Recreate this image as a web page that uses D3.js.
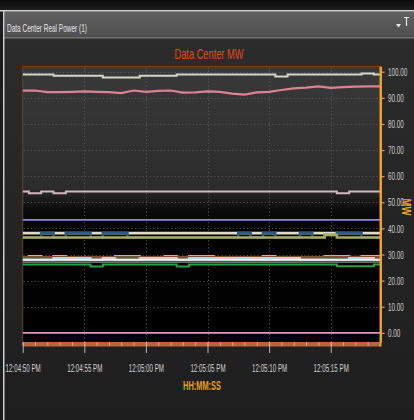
<!DOCTYPE html>
<html><head><meta charset="utf-8">
<script src="https://cdn.jsdelivr.net/npm/d3@7/dist/d3.min.js"></script>
<style>body{margin:0;background:#1e1e1e;overflow:hidden}svg{display:block}</style>
</head><body>
<svg id="c" width="414" height="420"></svg>
<script>
// ---- data (seconds after 12:04:50 PM, one sample per second) ----
const sampleSeconds = [0,1,2,3,4,5,6,7,8,9,10,11,12,13,14,15,16,17,18,19,20,21,22,23,24,25,26,27,28,29];
const xTickSeconds = [0,5,10,15,20,25];
const xTickLabels = ["12:04:50 PM","12:04:55 PM","12:05:00 PM","12:05:05 PM","12:05:10 PM","12:05:15 PM"];
const yTicks = [0,10,20,30,40,50,60,70,80,90,100];

const feedA = [98.9,98.9,98.9,98.5,98.5,98.5,98.5,97.8,97.8,97.8,98.5,98.5,98.5,98.9,98.9,98.9,98.9,98.9,98.9,98.9,98.9,98.2,98.9,98.9,98.9,98.9,98.9,98.9,99.3,98.9];
const feedB = [92.8,92.8,92.2,92.2,92.3,92.5,92.3,92.2,91.8,92.8,92.3,92.7,92.8,92.0,92.1,92.5,92.3,91.6,91.2,92.1,92.3,93.0,93.6,93.9,94.4,93.8,94.1,94.3,94.4,94.4];
const feedC = [54.1,53.5,54.1,53.5,54.1,54.1,54.1,54.1,54.1,54.1,54.1,54.1,54.1,54.1,54.1,54.1,54.1,54.1,54.1,54.1,54.1,54.1,54.1,54.1,54.1,54.1,53.5,54.1,54.1,54.1];
const feedD = [43.3,43.3,43.3,43.3,43.3,43.3,43.3,43.3,43.3,43.3,43.3,43.3,43.3,43.3,43.3,43.3,43.3,43.3,43.3,43.3,43.3,43.3,43.3,43.3,43.3,43.3,43.3,43.3,43.3,43.3];
const feedE = [38.2,38.2,38.2,38.2,38.2,38.2,38.2,38.2,38.2,38.2,38.2,38.2,38.2,38.2,38.2,38.2,38.2,38.2,38.2,38.2,38.2,38.2,38.2,38.2,38.2,38.2,38.2,38.2,38.2,38.2];
const feedF = [36.5,36.5,38.2,36.5,38.2,38.2,36.5,38.2,38.2,36.5,36.5,36.5,36.5,36.5,36.5,36.5,36.5,36.5,38.2,36.5,38.2,36.5,36.5,38.2,36.5,37.5,38.2,38.2,36.5,36.5];
const feedG = [36.5,36.5,36.5,36.5,36.5,36.5,36.5,36.5,36.5,36.5,36.5,36.5,36.5,36.5,36.5,36.5,36.5,36.5,36.5,36.5,36.5,36.5,36.5,36.5,36.5,37.5,36.5,36.5,36.5,36.5];
const feedH = [29.0,29.4,29.0,29.4,29.0,29.0,29.0,29.0,29.4,29.4,29.0,29.0,29.4,29.0,29.4,29.4,29.0,29.0,29.0,29.0,29.4,29.0,29.0,29.0,29.0,29.4,29.4,29.0,29.4,29.4];
const feedI = [29.0,29.0,29.0,29.0,29.0,29.0,29.0,29.0,29.0,29.0,29.0,29.0,29.0,29.0,29.0,29.0,29.0,29.0,29.0,29.0,29.0,29.0,29.0,29.0,29.0,29.0,29.0,29.0,29.0,29.0];
const feedJ = [28.0,28.0,28.0,28.0,28.6,28.0,28.0,28.6,28.0,28.0,28.6,28.6,28.6,28.0,28.0,28.0,28.6,28.6,28.0,28.6,28.0,28.6,28.6,28.0,28.0,28.0,28.0,28.0,28.6,28.0];
const feedK = [28.0,28.0,28.0,28.6,28.0,28.6,28.0,28.0,28.0,28.0,28.0,28.0,28.0,28.0,28.6,28.6,28.0,28.0,28.6,28.0,28.6,28.0,28.0,28.0,28.0,28.0,28.0,28.6,28.0,28.0];
const feedL = [28.0,28.0,28.0,28.0,28.0,28.0,28.0,28.0,28.0,28.0,28.0,28.0,28.0,28.0,28.0,28.0,28.0,28.0,28.0,28.0,28.0,28.0,28.0,28.0,28.0,28.0,28.0,28.0,28.0,28.0];
const feedM = [27.1,27.1,27.1,27.1,27.1,27.1,27.1,27.1,27.1,27.1,27.1,27.1,27.1,27.1,27.1,27.1,27.1,27.1,27.1,27.1,27.1,27.1,27.1,27.1,27.1,27.1,27.1,27.1,27.1,27.1];
const feedN = [26.2,26.2,26.2,26.2,26.2,26.2,25.4,26.2,26.2,26.2,26.2,26.2,26.2,25.4,26.2,26.2,26.2,26.2,26.2,26.2,26.2,26.2,26.2,26.2,26.2,26.2,25.5,25.5,25.5,26.2];
const feedO = [0,0,0,0,0,0,0,0,0,0,0,0,0,0,0,0,0,0,0,0,0,0,0,0,0,0,0,0,0,0];

// ---- drawing ----
const svg = d3.select("#c");
const defs = svg.append("defs");
function lg(id, stops, x2, y2){
  const g = defs.append("linearGradient").attr("id", id).attr("x1",0).attr("y1",0).attr("x2",x2||0).attr("y2",y2===undefined?1:y2);
  stops.forEach(s=>g.append("stop").attr("offset",s[0]).attr("stop-color",s[1]));
}
lg("topStrip", [[0,"#0a0a0a"],[1,"#1e1e1e"]]);
lg("header", [[0,"#626262"],[1,"#4e4e4e"]]);
lg("area", [[0,"#2c2c2c"],[0.5,"#242424"],[1,"#1e1e1e"]]);
lg("plot", [[0,"#393939"],[0.44,"#2c2c2c"],[0.52,"#0c0c0c"],[0.6,"#020202"],[1,"#000"]]);

const W = 414, H = 420;
svg.append("rect").attr("width",W).attr("height",H).attr("fill","#1c1c1c");
svg.append("rect").attr("width",W).attr("height",10).attr("fill","url(#topStrip)");
svg.append("rect").attr("x",5).attr("y",39).attr("width",W-5).attr("height",H-39).attr("fill","url(#area)");
svg.append("rect").attr("x",4.5).attr("y",11.5).attr("width",W-4.5).attr("height",26.5).attr("fill","url(#header)");
svg.append("rect").attr("x",0).attr("y",10).attr("width",W).attr("height",1.5).attr("fill","#d4d4d4");
svg.append("rect").attr("x",4.5).attr("y",37.5).attr("width",W).attr("height",1).attr("fill","#8c8c8c");
svg.append("rect").attr("x",3).attr("y",10).attr("width",1.5).attr("height",H-10).attr("fill","#cfcfcf");

const FONT = "'Liberation Sans', Arial, sans-serif";
function sText(x, y, txt, size, sx, color, weight, anchor, rot){
  const g = svg.append("g").attr("transform", `translate(${x},${y})` + (rot?` rotate(${rot})`:"") + ` scale(${sx},1)`);
  g.append("text").attr("font-family",FONT).attr("font-size",size).attr("font-weight",weight||"normal")
    .attr("fill",color).attr("text-anchor",anchor||"start").text(txt);
  return g;
}
sText(7, 32, "Data Center Real Power (1)", 11, 0.59, "#e6e6e6");
svg.append("path").attr("d","M396,24 L401,24 L398.5,27.5 Z").attr("fill","#e8e8e8");
svg.append("path").attr("d","M404,17.5 L409,17.5 M406.5,17.5 L406.5,26").attr("stroke","#e8e8e8").attr("stroke-width",1.2);

// scales
const t0 = new Date(2000,0,1,12,4,50);
const tAt = s => new Date(+t0 + s*1000);
const pl = 22.7, pr = 380, pt = 66.5, pb = 342;
const x = d3.scaleTime().domain([tAt(0), tAt(29)]).range([pl, pr]);
const y = d3.scaleLinear().domain([-3.5, 102]).range([pb, pt]);

svg.append("rect").attr("x",pl).attr("y",pt).attr("width",pr-pl).attr("height",pb-pt).attr("fill","url(#plot)");
svg.append("path").attr("d",`M${pl},${pb} L${pl},${pt} L${pr},${pt}`).attr("fill","none").attr("stroke","#6a4426").attr("stroke-width",1);

defs.append("clipPath").attr("id","clip").append("rect").attr("x",pl).attr("y",pt).attr("width",pr-pl).attr("height",pb-pt);

// grid
const grid = svg.append("g").attr("stroke","#5c5c5c").attr("stroke-width",1).attr("stroke-dasharray","1,2.6");
yTicks.filter(v=>v>0).forEach(v=>{
  grid.append("line").attr("x1",pl+1).attr("x2",pr).attr("y1",Math.round(y(v))+0.5).attr("y2",Math.round(y(v))+0.5);
});
xTickSeconds.filter(s=>s>0).forEach(s=>{
  grid.append("line").attr("x1",Math.round(x(tAt(s)))+0.5).attr("x2",Math.round(x(tAt(s)))+0.5).attr("y1",pt+1).attr("y2",pb);
});

// series
const series = [
  {d: feedA, c:"#d6d6c8", w:2, curve:d3.curveStep},
  {d: feedB, c:"#d98493", w:2.2, curve:d3.curveLinear},
  {d: feedC, c:"#cdb8c0", w:2, curve:d3.curveStep},
  {d: feedD, c:"#8a8cd8", w:1.8, curve:d3.curveStep},
  {d: feedE, c:"#dedcc2", w:2.6, curve:d3.curveStep},
  {d: feedF, c:"#2e5a7c", w:2.6, curve:d3.curveStep},
  {d: feedG, c:"#a9aa5c", w:2.6, curve:d3.curveStep},
  {d: feedH, c:"#eaa86a", w:2.2, curve:d3.curveStep},
  {d: feedI, c:"#7a5036", w:2.2, curve:d3.curveStep},
  {d: feedJ, c:"#f2bcbc", w:2.2, curve:d3.curveStep},
  {d: feedK, c:"#a6d8ec", w:2.2, curve:d3.curveStep},
  {d: feedL, c:"#ececec", w:2, curve:d3.curveStep},
  {d: feedM, c:"#60746a", w:1.6, curve:d3.curveStep},
  {d: feedN, c:"#27a046", w:2, curve:d3.curveStep},
  {d: feedO, c:"#dc98cc", w:1.8, curve:d3.curveStep}
];
const lines = svg.append("g").attr("clip-path","url(#clip)");
series.forEach(s=>{
  const gen = d3.line().x((d,i)=>x(tAt(sampleSeconds[i]))).y(d=>y(d)).curve(s.curve);
  lines.append("path").attr("d",gen(s.d)).attr("fill","none").attr("stroke",s.c).attr("stroke-width",s.w);
});

// x axis band
svg.append("rect").attr("x",pl).attr("y",pb).attr("width",pr-pl+1).attr("height",4.5).attr("fill","#b8643c");
const minor = svg.append("g").attr("transform",`translate(0,${pb})`)
  .call(d3.axisBottom(x).tickValues(sampleSeconds.map(tAt)).tickSize(4).tickFormat(""));
minor.select(".domain").remove();
minor.selectAll("line").attr("stroke","#e6a080").attr("stroke-width",1);

const xa = svg.append("g").attr("transform",`translate(0,${pb})`)
  .call(d3.axisBottom(x).tickValues(xTickSeconds.map(tAt)).tickSize(11).tickFormat((d,i)=>xTickLabels[i]));
xa.select(".domain").remove();
xa.selectAll("line").attr("stroke","#b4b4b4").attr("stroke-width",1);
xa.selectAll("text").attr("y",30).attr("dy",0).attr("fill","#d0d0d0")
  .attr("font-family",FONT).attr("font-size",11.5).attr("transform","scale(0.54,1)");

// y axis (right)
const ya = svg.append("g").attr("transform",`translate(${pr+0.5},0)`)
  .call(d3.axisRight(y).tickValues(yTicks).tickSize(4).tickSizeOuter(0).tickFormat(d=>d.toFixed(2)));
ya.select(".domain").attr("stroke","#f0a030").attr("stroke-width",2);
ya.selectAll("line").attr("stroke","#f0a030").attr("stroke-width",1.2);
ya.selectAll("text").attr("x",7.5/0.55).attr("fill","#d0d0d0")
  .attr("font-family",FONT).attr("font-size",11.5).attr("transform","scale(0.55,1)");
svg.append("line").attr("x1",pr+0.5).attr("x2",pr+0.5).attr("y1",pt).attr("y2",pb+4.5).attr("stroke","#f0a030").attr("stroke-width",2);

// titles
sText(209, 59, "Data Center MW", 14.5, 0.64, "#e2461a", "normal", "middle");
sText(202, 390, "HH:MM:SS", 13.5, 0.55, "#e9a21e", "bold", "middle");
sText(402, 207, "MW", 12, 0.8, "#e9a21e", "bold", "middle", 90);
</script>
</body></html>
